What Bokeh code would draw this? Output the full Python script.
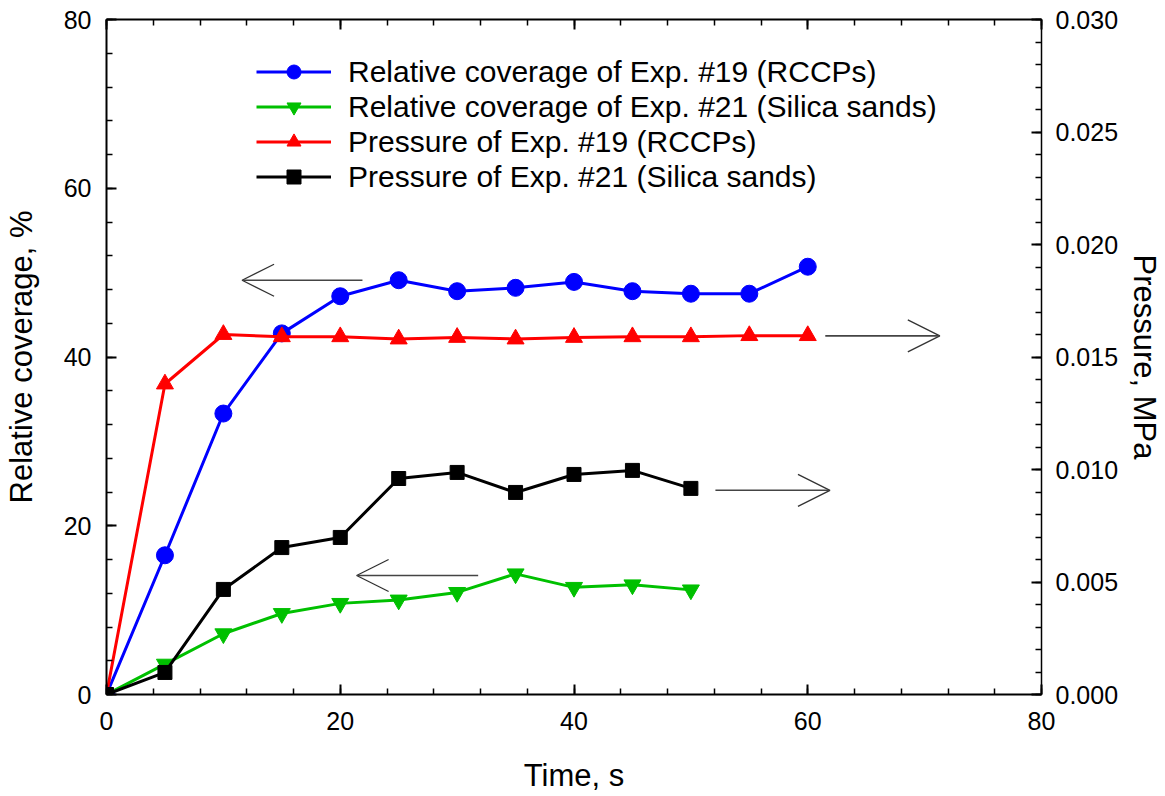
from bokeh.plotting import figure
from bokeh.models import (Range1d, LinearAxis, SingleIntervalTicker, NumeralTickFormatter,
                          Legend, LegendItem, Arrow, OpenHead, CustomJSTickFormatter)
from bokeh.embed import file_html
from bokeh.resources import INLINE

# ---- data ----
time_19 = [0, 5, 10, 15, 20, 25, 30, 35, 40, 45, 50, 55, 60]
coverage_19 = [0, 16.5, 33.3, 42.8, 47.2, 49.1, 47.8, 48.2, 48.9, 47.8, 47.5, 47.5, 50.7]
pressure_19 = [0, 0.0138, 0.0160, 0.0159, 0.0159, 0.0158, 0.01587, 0.0158, 0.01587, 0.0159, 0.0159, 0.01595, 0.01595]

time_21 = [0, 5, 10, 15, 20, 25, 30, 35, 40, 45, 50]
coverage_21 = [0, 3.6, 7.2, 9.6, 10.8, 11.2, 12.1, 14.3, 12.7, 13.0, 12.4]
pressure_21 = [0, 0.00098, 0.00467, 0.00653, 0.00698, 0.0096, 0.00987, 0.00898, 0.00978, 0.00996, 0.00916]

labels = ["Relative coverage of Exp. #19 (RCCPs)",
          "Relative coverage of Exp. #21 (Silica sands)",
          "Pressure of Exp. #19 (RCCPs)",
          "Pressure of Exp. #21 (Silica sands)"]

# annotation arrows (left-axis units)
arrow_x_start = [21.9, 61.5, 52.1, 31.8]
arrow_x_end = [11.6, 71.3, 61.9, 21.4]
arrow_y = [49.1, 42.5, 24.2, 14.1]

FONT = "Liberation Sans"

p = figure(width=1165, height=796, output_backend="svg", toolbar_location=None,
           x_range=Range1d(0, 80), y_range=Range1d(0, 80),
           x_axis_location=None, y_axis_location=None,
           min_border_left=106, min_border_right=124, min_border_top=19, min_border_bottom=102)
p.extra_y_ranges = {"pres": Range1d(0, 0.03)}
p.outline_line_color = None
p.background_fill_color = "white"
p.border_fill_color = "white"
p.grid.visible = False


def style(ax, labels_on=True):
    ax.axis_line_width = 2
    ax.axis_line_color = "black"
    ax.major_tick_in = 10
    ax.major_tick_out = 0
    ax.minor_tick_in = 6
    ax.minor_tick_out = 0
    ax.major_tick_line_width = 2
    ax.minor_tick_line_width = 1.5
    ax.major_tick_line_color = "black"
    ax.minor_tick_line_color = "black"
    ax.major_label_text_font = FONT
    ax.major_label_text_font_size = "25px" if labels_on else "0px"
    ax.major_label_text_color = "black"
    ax.major_label_standoff = 14
    ax.axis_label_text_font = FONT
    ax.axis_label_text_font_size = "31px"
    ax.axis_label_text_font_style = "normal"
    ax.axis_label_text_color = "black"


left = LinearAxis(ticker=SingleIntervalTicker(interval=20, num_minor_ticks=5),
                  axis_label="Relative coverage, %")
style(left)
left.major_label_standoff = 15
left.axis_label_standoff = 22
p.add_layout(left, "left")

bottom = LinearAxis(ticker=SingleIntervalTicker(interval=20, num_minor_ticks=5),
                    axis_label="Time, s")
style(bottom)
bottom.major_label_standoff = 17
bottom.axis_label_standoff = 25
p.add_layout(bottom, "below")

top = LinearAxis(ticker=SingleIntervalTicker(interval=20, num_minor_ticks=5),
                 formatter=CustomJSTickFormatter(code="return ''"))
style(top, labels_on=False)
top.major_label_standoff = 0
p.add_layout(top, "above")

right = LinearAxis(y_range_name="pres",
                   ticker=SingleIntervalTicker(interval=0.005, num_minor_ticks=5),
                   formatter=NumeralTickFormatter(format="0.000"),
                   axis_label="Pressure, MPa")
style(right)
right.axis_line_width = 1.5
right.axis_label_standoff = 6
p.add_layout(right, "right")

# ---- series ----
LW = 3
l1 = p.line(time_19, coverage_19, line_color="#0000FF", line_width=LW)
s1 = p.scatter(time_19, coverage_19, marker="circle", size=17, fill_color="#0000FF", line_color="#0000FF")

l2 = p.line(time_21, coverage_21, line_color="#00C000", line_width=LW)
s2 = p.scatter(time_21, coverage_21, marker="inverted_triangle", size=17, fill_color="#00C000", line_color="#00C000")

l3 = p.line(time_19, pressure_19, line_color="#FF0000", line_width=LW, y_range_name="pres")
s3 = p.scatter(time_19, pressure_19, marker="triangle", size=17, fill_color="#FF0000", line_color="#FF0000",
               y_range_name="pres")

l4 = p.line(time_21, pressure_21, line_color="black", line_width=LW, y_range_name="pres")
s4 = p.scatter(time_21, pressure_21, marker="square", size=14, fill_color="black", line_color="black",
               y_range_name="pres")

for xs, xe, y in zip(arrow_x_start, arrow_x_end, arrow_y):
    p.add_layout(Arrow(end=OpenHead(size=32, line_width=1.3, line_color="#333333"),
                       x_start=xs, y_start=y, x_end=xe, y_end=y,
                       line_width=1.6, line_color="#444444"))

legend = Legend(items=[LegendItem(label=labels[0], renderers=[l1, s1]),
                       LegendItem(label=labels[1], renderers=[l2, s2]),
                       LegendItem(label=labels[2], renderers=[l3, s3]),
                       LegendItem(label=labels[3], renderers=[l4, s4])],
                location=(150, 500), padding=0, margin=0, spacing=0,
                border_line_color=None, background_fill_alpha=0,
                glyph_width=75, glyph_height=35, label_height=35, label_standoff=17,
                label_text_font=FONT, label_text_font_size="30px", label_text_color="black")
p.add_layout(legend)

open("out.html", "w").write(file_html(p, INLINE))
